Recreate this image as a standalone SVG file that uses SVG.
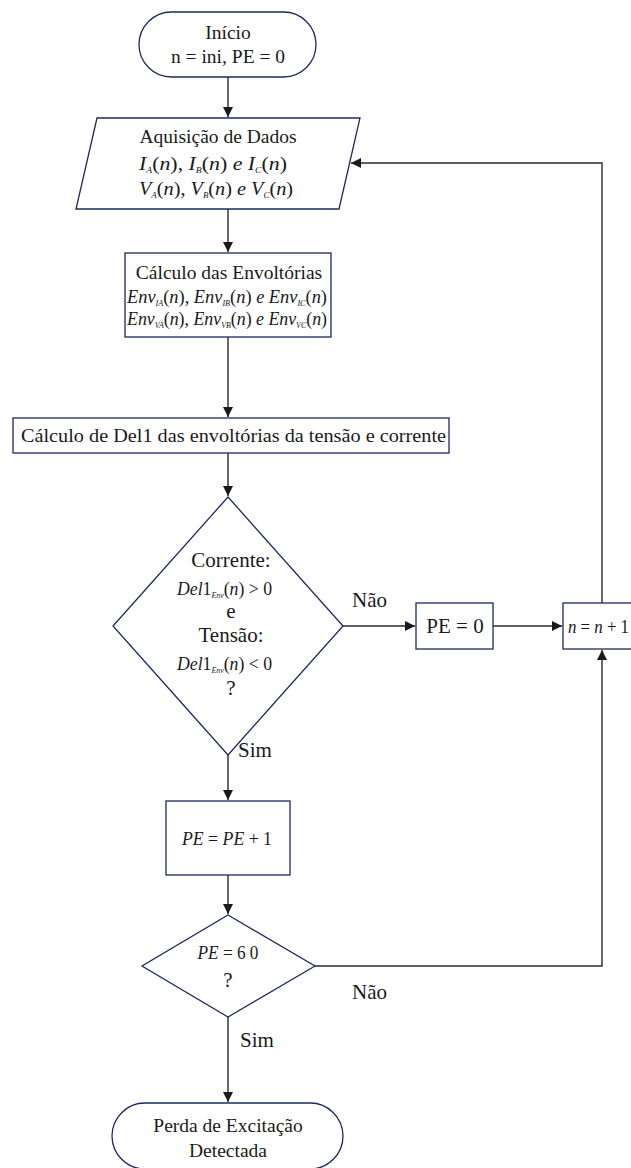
<svg xmlns="http://www.w3.org/2000/svg" width="631" height="1168" viewBox="0 0 631 1168">
<defs>
<marker id="ah" markerWidth="10" markerHeight="10" refX="10" refY="5" orient="auto" markerUnits="userSpaceOnUse">
<path d="M0,0 L10,5 L0,10 Z" fill="#1a1a1a"/>
</marker>
<style>
.n{fill:#fff;stroke:#1e2a5e;stroke-width:1.3}
.c{fill:none;stroke:#2a2a2a;stroke-width:1.4}
.t{font-family:"Liberation Serif","Times New Roman",serif;font-size:19.5px;fill:#1a1a1a}
.b{font-family:"Liberation Serif","Times New Roman",serif;font-size:21px;fill:#1a1a1a}
.m{font-family:"Liberation Serif","Times New Roman",serif;font-size:18px;fill:#1a1a1a}
.i{font-style:italic}
.s{font-size:8px;font-style:italic}
.mid{text-anchor:middle}
</style>
</defs>
<rect width="631" height="1168" fill="#fff"/>
<g id="connectors">
<path class="c" d="M228,77 V117" marker-end="url(#ah)"/>
<path class="c" d="M228,209 V252" marker-end="url(#ah)"/>
<path class="c" d="M228,337 V417" marker-end="url(#ah)"/>
<path class="c" d="M228,453 V496" marker-end="url(#ah)"/>
<path class="c" d="M343,626 H415" marker-end="url(#ah)"/>
<path class="c" d="M493,626 H562" marker-end="url(#ah)"/>
<path class="c" d="M602,603 V163 H351" marker-end="url(#ah)"/>
<path class="c" d="M228,755 V800" marker-end="url(#ah)"/>
<path class="c" d="M228,875 V914" marker-end="url(#ah)"/>
<path class="c" d="M315,966 H602 V650" marker-end="url(#ah)"/>
<path class="c" d="M228,1016 V1102" marker-end="url(#ah)"/>
<text class="b" x="352" y="607">Não</text>
<text class="b" x="238" y="757">Sim</text>
<text class="b" x="352" y="999">Não</text>
<text class="b" x="240" y="1047">Sim</text>
</g>
<g id="inicio">
<rect class="n" x="139" y="12" width="177" height="65" rx="32.5"/>
<text class="t mid" x="228" y="39">Início</text>
<text class="t mid" x="228" y="63">n = ini, PE = 0</text>
</g>
<g id="aquisicao">
<path class="n" d="M97,118 H360 L339,209 H76 Z"/>
<text class="t mid" x="218" y="143">Aquisição de Dados</text>
<text class="m" x="139" y="170" textLength="148" lengthAdjust="spacingAndGlyphs"><tspan class="i">I</tspan><tspan class="s" dy="3">A</tspan><tspan dy="-3">(</tspan><tspan class="i">n</tspan>), <tspan class="i">I</tspan><tspan class="s" dy="3">B</tspan><tspan dy="-3">(</tspan><tspan class="i">n</tspan>)  <tspan class="i">e</tspan>  <tspan class="i">I</tspan><tspan class="s" dy="3">C</tspan><tspan dy="-3">(</tspan><tspan class="i">n</tspan>)</text>
<text class="m" x="139" y="195" textLength="154" lengthAdjust="spacingAndGlyphs"><tspan class="i">V</tspan><tspan class="s" dy="3">A</tspan><tspan dy="-3">(</tspan><tspan class="i">n</tspan>), <tspan class="i">V</tspan><tspan class="s" dy="3">B</tspan><tspan dy="-3">(</tspan><tspan class="i">n</tspan>) <tspan class="i">e</tspan> <tspan class="i">V</tspan><tspan class="s" dy="3">C</tspan><tspan dy="-3">(</tspan><tspan class="i">n</tspan>)</text>
</g>
<g id="envoltorias">
<rect class="n" x="125" y="253" width="206" height="84"/>
<text class="t mid" x="229" y="279">Cálculo das Envoltórias</text>
<text class="m" x="127" y="303" textLength="200" lengthAdjust="spacingAndGlyphs"><tspan class="i">Env</tspan><tspan class="s" dy="3">IA</tspan><tspan dy="-3">(</tspan><tspan class="i">n</tspan>), <tspan class="i">Env</tspan><tspan class="s" dy="3">IB</tspan><tspan dy="-3">(</tspan><tspan class="i">n</tspan>)  <tspan class="i">e</tspan>  <tspan class="i">Env</tspan><tspan class="s" dy="3">IC</tspan><tspan dy="-3">(</tspan><tspan class="i">n</tspan>)</text>
<text class="m" x="127" y="325" textLength="200" lengthAdjust="spacingAndGlyphs"><tspan class="i">Env</tspan><tspan class="s" dy="3">VA</tspan><tspan dy="-3">(</tspan><tspan class="i">n</tspan>), <tspan class="i">Env</tspan><tspan class="s" dy="3">VB</tspan><tspan dy="-3">(</tspan><tspan class="i">n</tspan>) <tspan class="i">e</tspan> <tspan class="i">Env</tspan><tspan class="s" dy="3">VC</tspan><tspan dy="-3">(</tspan><tspan class="i">n</tspan>)</text>
</g>
<g id="del1">
<rect class="n" x="13" y="418" width="436" height="35"/>
<text class="t" x="21" y="442" textLength="425" lengthAdjust="spacingAndGlyphs">Cálculo de Del1 das envoltórias da tensão e corrente</text>
</g>
<g id="decisao1">
<path class="n" d="M228,497 L343,626 L228,755 L113,626 Z"/>
<text class="b mid" x="231" y="567">Corrente:</text>
<text class="m" x="177" y="595" textLength="95" lengthAdjust="spacingAndGlyphs"><tspan class="i">Del</tspan>1<tspan class="s" dy="3">Env</tspan><tspan dy="-3">(</tspan><tspan class="i">n</tspan>) &gt; 0</text>
<text class="b mid" x="231" y="618">e</text>
<text class="b mid" x="231" y="642">Tensão:</text>
<text class="m" x="177" y="670" textLength="95" lengthAdjust="spacingAndGlyphs"><tspan class="i">Del</tspan>1<tspan class="s" dy="3">Env</tspan><tspan dy="-3">(</tspan><tspan class="i">n</tspan>) &lt; 0</text>
<text class="b mid" x="231" y="695">?</text>
</g>
<g id="pe0">
<rect class="n" x="416" y="603" width="77" height="46"/>
<text class="b mid" x="455" y="633">PE = 0</text>
</g>
<g id="ninc">
<rect class="n" x="563" y="603" width="100" height="46"/>
<text class="m" x="568" y="633" textLength="61" lengthAdjust="spacingAndGlyphs"><tspan class="i">n</tspan> = <tspan class="i">n</tspan> + 1</text>
</g>
<g id="peinc">
<rect class="n" x="166" y="801" width="124" height="74"/>
<text class="m mid" x="227" y="845" textLength="90" lengthAdjust="spacingAndGlyphs"><tspan class="i">PE</tspan> = <tspan class="i">PE</tspan> + 1</text>
</g>
<g id="decisao2">
<path class="n" d="M228,915 L315,966 L228,1017 L142,966 Z"/>
<text class="m mid" x="228" y="959" textLength="61" lengthAdjust="spacingAndGlyphs"><tspan class="i">PE</tspan> = 6 0</text>
<text class="b mid" x="228" y="987">?</text>
</g>
<g id="fim">
<rect class="n" x="112" y="1103" width="231" height="66" rx="33"/>
<text class="t mid" x="228" y="1132">Perda de Excitação</text>
<text class="t mid" x="228" y="1157">Detectada</text>
</g>
</svg>
